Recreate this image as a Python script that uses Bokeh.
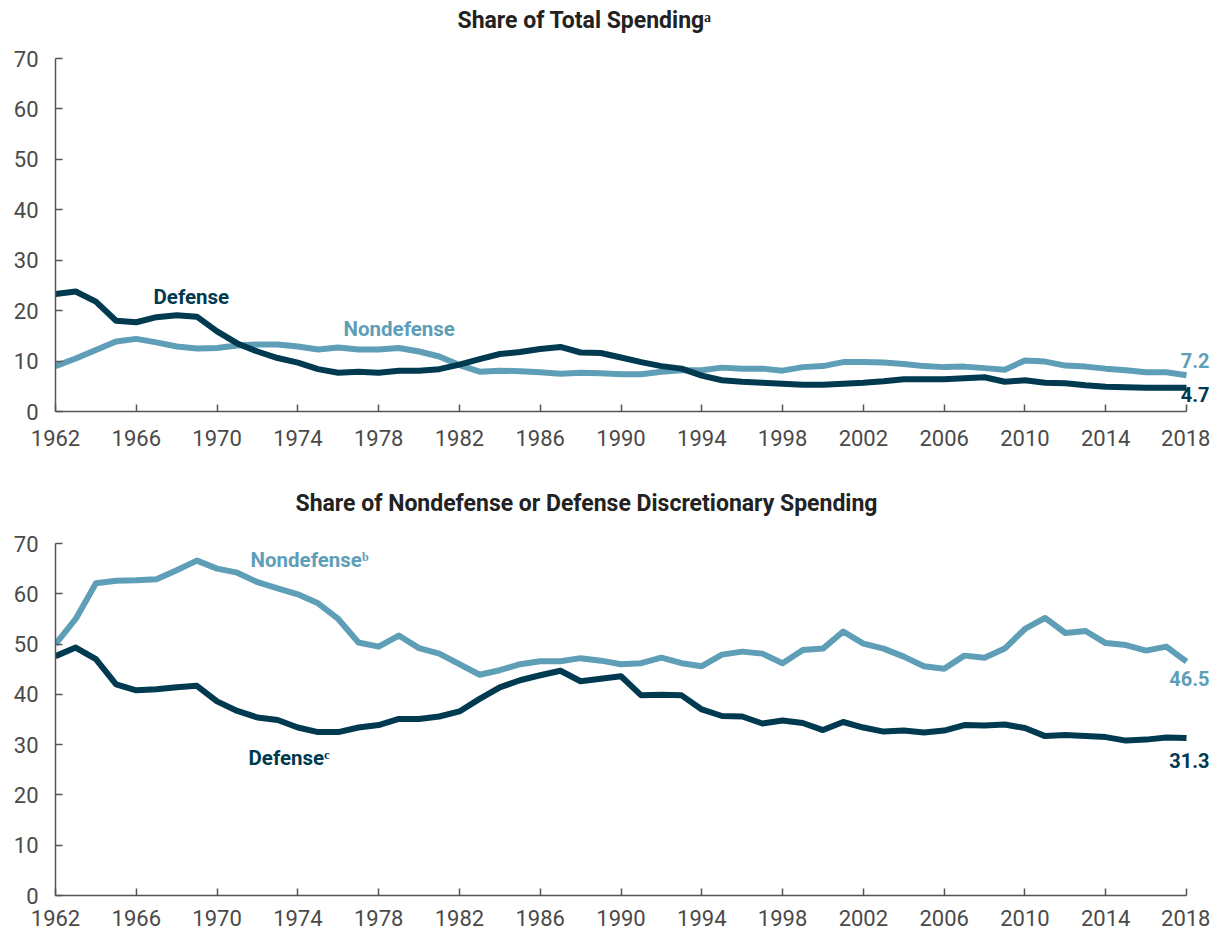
from bokeh.plotting import figure
from bokeh.layouts import column
from bokeh.models import Range1d, FixedTicker, Label
from bokeh.embed import file_html
from bokeh.resources import INLINE

years = list(range(1962, 2019))
x_ticks = list(range(1962, 2019, 4))
y_ticks = [0, 10, 20, 30, 40, 50, 60, 70]

top_defense = [23.3, 23.8, 21.8, 18.0, 17.7, 18.7, 19.1, 18.8, 15.9, 13.5,
               11.9, 10.6, 9.7, 8.4, 7.7, 7.9, 7.7, 8.1, 8.1, 8.4,
               9.3, 10.4, 11.4, 11.8, 12.4, 12.8, 11.7, 11.6, 10.7, 9.8,
               9.0, 8.5, 7.1, 6.2, 5.9, 5.7, 5.5, 5.3, 5.3, 5.5,
               5.7, 6.0, 6.4, 6.4, 6.4, 6.6, 6.8, 5.9, 6.2, 5.7,
               5.6, 5.2, 4.9, 4.8, 4.7, 4.7, 4.7]
top_nondefense = [9.0, 10.5, 12.2, 13.9, 14.4, 13.7, 12.9, 12.5, 12.6, 13.1,
                  13.3, 13.3, 12.9, 12.3, 12.7, 12.3, 12.3, 12.6, 11.9, 10.9,
                  9.2, 7.9, 8.1, 8.0, 7.8, 7.5, 7.7, 7.6, 7.4, 7.4,
                  7.9, 8.2, 8.2, 8.7, 8.5, 8.5, 8.1, 8.8, 9.0, 9.8,
                  9.8, 9.7, 9.4, 9.0, 8.8, 8.9, 8.6, 8.3, 10.1, 9.9,
                  9.1, 8.9, 8.5, 8.2, 7.8, 7.8, 7.2]
bottom_nondefense = [50.0, 55.0, 62.1, 62.6, 62.7, 62.9, 64.7, 66.6, 65.0, 64.2,
                     62.3, 61.1, 59.9, 58.1, 55.0, 50.3, 49.5, 51.7, 49.2, 48.1,
                     46.0, 43.9, 44.8, 46.0, 46.6, 46.6, 47.2, 46.7, 46.0, 46.2,
                     47.3, 46.2, 45.6, 47.9, 48.5, 48.1, 46.2, 48.8, 49.1, 52.5,
                     50.1, 49.1, 47.5, 45.6, 45.1, 47.7, 47.3, 49.1, 53.0, 55.2,
                     52.2, 52.6, 50.2, 49.8, 48.7, 49.5, 46.5]
bottom_defense = [47.6, 49.3, 47.0, 42.0, 40.8, 41.0, 41.4, 41.7, 38.6, 36.7,
                  35.4, 34.9, 33.4, 32.5, 32.5, 33.4, 33.9, 35.1, 35.1, 35.6,
                  36.6, 39.1, 41.4, 42.8, 43.8, 44.7, 42.6, 43.1, 43.6, 39.8,
                  39.9, 39.8, 37.0, 35.7, 35.6, 34.2, 34.8, 34.3, 32.9, 34.5,
                  33.4, 32.6, 32.8, 32.4, 32.8, 33.9, 33.8, 34.0, 33.3, 31.7,
                  31.9, 31.7, 31.5, 30.8, 31.0, 31.4, 31.3]

titles = ["Share of Total Spending\u1d43",
          "Share of Nondefense or Defense Discretionary Spending"]

DARK = "#003a50"
LIGHT = "#5f9eb7"
AXIS = "#555555"
FONT = "Roboto"

WIDTH = 1210
LEFT = 55            # frame left (x of 1962)
X_2018 = 1186        # screen x of 2018
PX_PER_YEAR = (X_2018 - LEFT) / 56.0
X_END = 1962 + (WIDTH - LEFT) / PX_PER_YEAR


def make_fig(height, y_top_px, y_zero_px, bottom, standoff):
    px_per_unit = (y_zero_px - y_top_px) / 70.0
    y_end = 70 + y_top_px / px_per_unit
    p = figure(width=WIDTH, height=height, output_backend="svg",
               toolbar_location=None,
               x_range=Range1d(1962, X_END), y_range=Range1d(0, y_end),
               min_border_left=LEFT, min_border_right=0,
               min_border_top=0, min_border_bottom=bottom)
    p.outline_line_color = None
    p.xgrid.grid_line_color = None
    p.ygrid.grid_line_color = None
    p.background_fill_color = "white"
    p.border_fill_color = "white"
    for ax in (p.xaxis[0], p.yaxis[0]):
        ax.axis_line_color = AXIS
        ax.axis_line_width = 1.5
        ax.major_tick_line_color = AXIS
        ax.major_tick_line_width = 1.5
        ax.major_tick_in = 7
        ax.major_tick_out = 0
        ax.minor_tick_line_color = None
        ax.major_label_text_font = FONT
        ax.major_label_text_font_size = "22px"
        ax.major_label_text_color = "#4a4a4a"
    p.xaxis[0].ticker = FixedTicker(ticks=x_ticks)
    p.xaxis[0].bounds = (1962, 2018)
    p.xaxis[0].major_label_standoff = standoff
    p.yaxis[0].ticker = FixedTicker(ticks=y_ticks)
    p.yaxis[0].bounds = (0, 70)
    p.yaxis[0].major_label_standoff = 17
    return p, px_per_unit


def add_label(p, x, y, text, color, size="20.5px", align="left", x_offset=0):
    p.add_layout(Label(x=x, y=y, text=text, text_color=color,
                       text_font=FONT, text_font_size=size,
                       text_font_style="bold",
                       text_align=align, text_baseline="middle",
                       x_offset=x_offset))


def xd(px):
    return 1962 + (px - LEFT) / PX_PER_YEAR


# Top chart (page y: 70 at 58, 0 at 411)
p1, k1 = make_fig(460, 58, 411, 49, 18)
p1.line(years, top_nondefense, line_color=LIGHT, line_width=6, line_join="round")
p1.line(years, top_defense, line_color=DARK, line_width=6, line_join="round")
add_label(p1, xd(584), (411 - 20) / k1, titles[0], "#222222", size="23px", align="center")
add_label(p1, xd(153), (411 - 296) / k1, "Defense", DARK)
add_label(p1, xd(343), (411 - 328) / k1, "Nondefense", LIGHT)
add_label(p1, years[-1], top_nondefense[-1] + 2.9, f"{top_nondefense[-1]:.1f}",
          LIGHT, align="right", x_offset=23, size="20px")
add_label(p1, years[-1], top_defense[-1] - 1.3, f"{top_defense[-1]:.1f}",
          DARK, align="right", x_offset=23, size="20px")

# Bottom chart (figure starts at page y 460; 70 at 543, 0 at 895)
p2, k2 = make_fig(473, 543 - 460, 895 - 460, 38, 14)
p2.line(years, bottom_nondefense, line_color=LIGHT, line_width=6, line_join="round")
p2.line(years, bottom_defense, line_color=DARK, line_width=6, line_join="round")
add_label(p2, xd(586), (895 - 503) / k2, titles[1], "#222222", size="23px", align="center")
add_label(p2, xd(250), (895 - 559) / k2, "Nondefense\u1d47", LIGHT)
add_label(p2, xd(248), (895 - 757) / k2, "Defense\u1d9c", DARK)
add_label(p2, years[-1], bottom_nondefense[-1] - 3.4, f"{bottom_nondefense[-1]:.1f}",
          LIGHT, align="right", x_offset=23, size="20px")
add_label(p2, years[-1], bottom_defense[-1] - 4.5, f"{bottom_defense[-1]:.1f}",
          DARK, align="right", x_offset=23, size="20px")

layout = column(p1, p2)
open("out.html", "w").write(file_html(layout, INLINE))
